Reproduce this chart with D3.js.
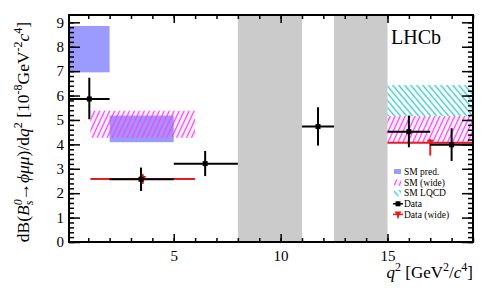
<!DOCTYPE html>
<html>
<head>
<meta charset="utf-8">
<script src="https://cdn.jsdelivr.net/npm/d3@7"></script>
<style>
  body { margin: 0; background: #fff; }
  text { font-family: "Liberation Serif", "DejaVu Serif", serif; fill: #000; }
</style>
</head>
<body>
<svg id="chart" width="498" height="288"></svg>
<script>
// q2 bins of the narrow measurement
const binLo = [0.1, 2.0, 5.0, 11.0, 15.0, 17.0];
const binHi = [2.0, 5.0, 8.0, 12.5, 17.0, 19.0];
const dataX = [1.05, 3.47, 6.47, 11.75, 16.0, 18.0];
const dataY = [5.86, 2.57, 3.21, 4.73, 4.52, 3.98];
const errUp = [0.87, 0.48, 0.52, 0.79, 0.66, 0.68];
const errDn = [0.83, 0.48, 0.51, 0.78, 0.64, 0.66];

// wide bins
const wideLo = [1.1, 15.0];
const wideHi = [6.0, 19.0];
const wideX = [3.55, 17.0];
const wideY = [2.58, 4.07];
const wideUp = [0.2, 0.15];
const wideDn = [0.2, 0.53];

// SM predictions
const smLo = [0.1, 2.0];
const smHi = [2.0, 5.0];
const smMin = [6.95, 4.09];
const smMax = [8.85, 5.18];

const smWideLo = [1.1, 15.0];
const smWideHi = [6.0, 19.0];
const smWideMin = [4.27, 4.07];
const smWideMax = [5.38, 5.16];

const lqcdLo = [15.0];
const lqcdHi = [19.0];
const lqcdMin = [5.16];
const lqcdMax = [6.43];

// charmonium vetoes
const vetoLo = [8.0, 12.5];
const vetoHi = [11.0, 15.0];

const xMajor = [5, 10, 15];
const yMajor = [0, 1, 2, 3, 4, 5, 6, 7, 8, 9];
const legendLabels = ['SM pred.', 'SM (wide)', 'SM LQCD', 'Data', 'Data (wide)'];

const L = 69, R = 473, T = 15, B = 242;
const svg = d3.select('#chart');
const x = d3.scaleLinear().domain([0.1, 19]).range([L, R]);
const y = d3.scaleLinear().domain([0, 9.3]).range([B, T]);

const blue = '#9b9bff', magenta = '#ff3cff', cyan = '#3cc8c8', red = '#e02020';

// hatch patterns
const defs = svg.append('defs');
function hatch(id, color, angle, w) {
    const p = defs.append('pattern')
        .attr('id', id)
        .attr('patternUnits', 'userSpaceOnUse')
        .attr('width', w).attr('height', 10)
        .attr('patternTransform', 'rotate(' + angle + ')');
    p.append('line')
        .attr('x1', w / 2).attr('x2', w / 2)
        .attr('y1', 0).attr('y2', 10)
        .attr('stroke', color)
        .attr('stroke-width', 1.4);
}
hatch('hMag', magenta, 25, 4.5);
hatch('hCyan', cyan, -40, 4.6);

const plot = svg.append('g');

// vetoed regions
plot.selectAll('rect.veto').data(vetoLo).enter().append('rect')
    .attr('class', 'veto')
    .attr('x', (d, i) => x(d))
    .attr('width', (d, i) => x(vetoHi[i]) - x(d))
    .attr('y', T).attr('height', B - T)
    .attr('fill', '#cbcbcb');

function bands(lo, hi, mn, mx, fill) {
    plot.append('g').selectAll('rect').data(lo).enter().append('rect')
        .attr('x', (d, i) => x(d))
        .attr('width', (d, i) => x(hi[i]) - x(d))
        .attr('y', (d, i) => y(mx[i]))
        .attr('height', (d, i) => y(mn[i]) - y(mx[i]))
        .attr('fill', fill);
}
bands(smLo, smHi, smMin, smMax, blue);
bands(smWideLo, smWideHi, smWideMin, smWideMax, 'url(#hMag)');
bands(lqcdLo, lqcdHi, lqcdMin, lqcdMax, 'url(#hCyan)');

function points(lo, hi, px, py, up, dn, color, marker) {
    const g = plot.append('g').attr('stroke', color).attr('stroke-width', 2);
    lo.forEach((d, i) => {
        g.append('line')
            .attr('x1', x(d)).attr('x2', x(hi[i]))
            .attr('y1', y(py[i])).attr('y2', y(py[i]));
        g.append('line')
            .attr('x1', x(px[i])).attr('x2', x(px[i]))
            .attr('y1', y(py[i] + up[i])).attr('y2', y(py[i] - dn[i]));
        marker(g, x(px[i]), y(py[i]));
    });
}
const square = (g, cx, cy) => g.append('rect')
    .attr('x', cx - 2.5).attr('y', cy - 2.5).attr('width', 5).attr('height', 5)
    .attr('fill', '#000').attr('stroke', 'none');
const triangle = color => (g, cx, cy) => g.append('path')
    .attr('d', 'M' + (cx - 3.5) + ',' + (cy - 3) + 'L' + (cx + 3.5) + ',' + (cy - 3) + 'L' + cx + ',' + (cy + 3) + 'Z')
    .attr('fill', color).attr('stroke', 'none');

points(wideLo, wideHi, wideX, wideY, wideUp, wideDn, red, triangle(red));
points(binLo, binHi, dataX, dataY, errUp, errDn, '#000', square);

// axes with inward ticks, mirrored on top and right
const fontSize = 15;
function ax(gen, tr, vals, size, labels) {
    const g = svg.append('g').attr('transform', tr)
        .call(gen.tickValues(vals).tickSize(size).tickSizeOuter(0)
            .tickFormat(labels ? d3.format('d') : ''));
    g.attr('font-family', null);
    g.select('.domain').remove();
    g.selectAll('.tick line').attr('stroke', '#000').attr('stroke-width', 1.5);
    g.selectAll('.tick text').attr('font-size', fontSize)
        .style('font-family', '"Liberation Serif", serif');
    return g;
}
const xMinor = d3.range(1, 20);
const yMinor = d3.range(0, 46).map(d => d / 5);

ax(d3.axisBottom(x), 'translate(0,' + B + ')', xMinor, -4, false);
const xb = ax(d3.axisBottom(x), 'translate(0,' + B + ')', xMajor, -8, true);
xb.selectAll('.tick text').attr('y', 8).attr('dy', '0.71em');
ax(d3.axisTop(x), 'translate(0,' + T + ')', xMinor, -4, false);
ax(d3.axisTop(x), 'translate(0,' + T + ')', xMajor, -8, false);

ax(d3.axisLeft(y), 'translate(' + L + ',0)', yMinor, -5, false);
const yl = ax(d3.axisLeft(y), 'translate(' + L + ',0)', yMajor, -11, true);
yl.selectAll('.tick text').attr('x', -5);
ax(d3.axisRight(y), 'translate(' + R + ',0)', yMinor, -5, false);
ax(d3.axisRight(y), 'translate(' + R + ',0)', yMajor, -11, false);

// frame
svg.append('rect')
    .attr('x', L).attr('y', T).attr('width', R - L).attr('height', B - T)
    .attr('fill', 'none').attr('stroke', '#000').attr('stroke-width', 2);

// LHCb label
svg.append('text').attr('x', 391).attr('y', 44)
    .attr('font-size', 20).text('LHCb');

// x title
const xt = svg.append('text').attr('x', R).attr('y', 278)
    .attr('text-anchor', 'end').attr('font-size', 17);
xt.append('tspan').attr('font-style', 'italic').text('q');
xt.append('tspan').attr('font-size', 12).attr('dy', -7).text('2');
xt.append('tspan').attr('dy', 7).text(' [GeV');
xt.append('tspan').attr('font-size', 12).attr('dy', -7).text('2');
xt.append('tspan').attr('dy', 7).text('/');
xt.append('tspan').attr('font-style', 'italic').text('c');
xt.append('tspan').attr('font-size', 12).attr('dy', -7).text('4');
xt.append('tspan').attr('dy', 7).text(']');

// y title
const yt = svg.append('text')
    .attr('transform', 'translate(29,132) rotate(-90)')
    .attr('text-anchor', 'middle').attr('font-size', 17.5);
yt.append('tspan').text('dB(');
yt.append('tspan').attr('font-style', 'italic').text('B');
yt.append('tspan').attr('font-size', 12).attr('font-style', 'italic').attr('dy', -7).text('0');
yt.append('tspan').attr('font-size', 12).attr('font-style', 'italic').attr('dx', -6).attr('dy', 11).text('s');
yt.append('tspan').attr('dy', -4).text('\u2192');
yt.append('tspan').attr('font-style', 'italic').text('\u03d5\u03bc\u03bc');
yt.append('tspan').text(')/d');
yt.append('tspan').attr('font-style', 'italic').text('q');
yt.append('tspan').attr('font-size', 12).attr('dy', -7).text('2');
yt.append('tspan').attr('dy', 7).text(' [10');
yt.append('tspan').attr('font-size', 12).attr('dy', -7).text('-8');
yt.append('tspan').attr('dy', 7).text('GeV');
yt.append('tspan').attr('font-size', 12).attr('dy', -7).text('-2');
yt.append('tspan').attr('font-style', 'italic').attr('font-size', 17.5).attr('dy', 7).text('c');
yt.append('tspan').attr('font-size', 12).attr('dy', -7).text('4');
yt.append('tspan').attr('dy', 7).text(']');

// legend
const lg = svg.append('g').attr('transform', 'translate(393,172)');
const rowH = 10.6;
legendLabels.forEach((t, i) => {
    const cy = i * rowH;
    if (i === 0) lg.append('rect').attr('x', 1).attr('y', cy - 3).attr('width', 7).attr('height', 5).attr('fill', blue);
    if (i === 1) lg.append('rect').attr('x', 1).attr('y', cy - 3).attr('width', 7).attr('height', 6).attr('fill', 'url(#hMag)');
    if (i === 2) lg.append('rect').attr('x', 1).attr('y', cy - 3).attr('width', 7).attr('height', 6).attr('fill', 'url(#hCyan)');
    if (i === 3) {
        lg.append('line').attr('x1', 0).attr('x2', 10).attr('y1', cy).attr('y2', cy)
            .attr('stroke', '#000').attr('stroke-width', 1.5);
        square(lg, 5, cy);
    }
    if (i === 4) {
        lg.append('line').attr('x1', 0).attr('x2', 10).attr('y1', cy).attr('y2', cy)
            .attr('stroke', red).attr('stroke-width', 1.5);
        lg.append('line').attr('x1', 5).attr('x2', 5).attr('y1', cy).attr('y2', cy + 4)
            .attr('stroke', red).attr('stroke-width', 1.5);
        triangle(red)(lg, 5, cy);
    }
    lg.append('text').attr('x', 11).attr('y', cy).attr('dy', '0.33em')
        .attr('font-size', 9.5).text(t);
});
</script>
</body>
</html>
